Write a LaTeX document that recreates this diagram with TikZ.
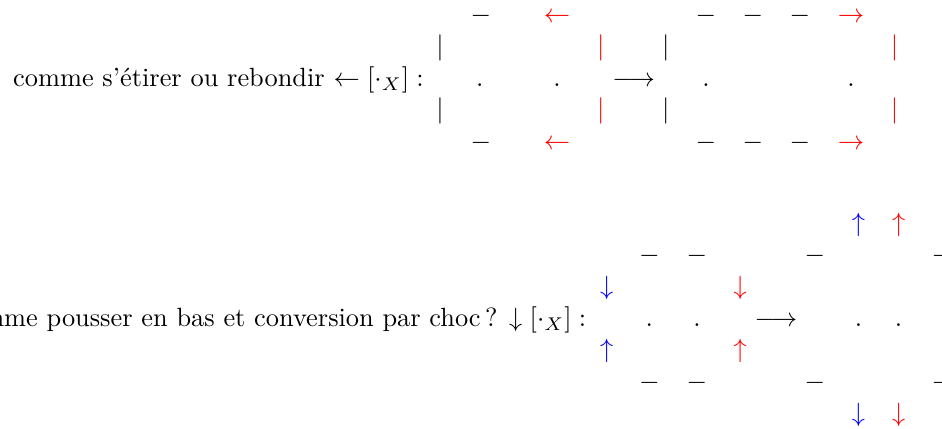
\documentclass[tikz,border=0pt]{standalone}
\usepackage{amsmath,amssymb}
\usepackage{fontspec}
\usepackage{xcolor}
\usepackage{tikz}

\begin{document}
\begin{tikzpicture}[
   every node/.style={font=\normalsize},
   sym/.style={anchor=base,inner sep=0pt},
   lbl/.style={anchor=base east,inner sep=0pt},
   hot/.style={sym,red},
   cold/.style={sym,blue}
]
\useasboundingbox (0,0) rectangle (12.565,-5.709);
\clip (0,0) rectangle (12.565,-5.709);

% =========== Row A: stretch or rebound ============
\node[lbl] (txtA) at (5.66,-1.158)
   {comme s’étirer ou rebondir $\leftarrow [\cdot_X] :$};

% left box: walls, edges and the pushed right wall
\foreach \y/\n in {-0.304/t,-1.995/b} {
  \node[sym] (A\n e) at (6.415,\y) {$-$};
  \node[hot] (A\n a) at (7.43,\y)  {$\leftarrow$};
}
\foreach \y/\n in {-0.727/t,-1.572/b} {
  \node[sym] (A\n l) at (5.868,\y) {$|$};
  \node[hot] (A\n r) at (8.015,\y) {$|$};
}
\node[sym] (Ap1) at (6.40,-1.152) {$.$};
\node[sym] (Ap2) at (7.43,-1.152) {$.$};

\node[sym] (Ato) at (8.452,-1.152) {$\longrightarrow$};

% right box, stretched
\foreach \y/\n in {-0.304/t,-1.995/b} {
  \foreach \x [count=\i] in {9.416,10.043,10.67} {
    \node[sym] (B\n e\i) at (\x,\y) {$-$};
  }
  \node[hot] (B\n a) at (11.35,\y) {$\rightarrow$};
}
\foreach \y/\n in {-0.727/t,-1.572/b} {
  \node[sym] (B\n l) at (8.882,\y)  {$|$};
  \node[hot] (B\n r) at (11.932,\y) {$|$};
}
\node[sym] (Bp1) at (9.416,-1.152) {$.$};
\node[sym] (Bp2) at (11.35,-1.152) {$.$};

% =========== Row B: push down, shock conversion ============
\node[lbl] (txtB) at (7.828,-4.36)
   {comme pousser en bas et conversion par choc\,? $\downarrow [\cdot_X] :$};

% left box, squeezed from both sides
\foreach \y/\n in {-3.505/t,-5.199/b} {
  \node[sym] (C\n e1) at (8.662,\y) {$-$};
  \node[sym] (C\n e2) at (9.296,\y) {$-$};
}
\node[cold] (Cdl) at (8.091,-3.929) {$\downarrow$};
\node[cold] (Cul) at (8.091,-4.775) {$\uparrow$};
\node[hot]  (Cdr) at (9.873,-3.929) {$\downarrow$};
\node[hot]  (Cur) at (9.873,-4.775) {$\uparrow$};
\node[sym] (Cp1) at (8.662,-4.352) {$.$};
\node[sym] (Cp2) at (9.296,-4.352) {$.$};

\node[sym] (Cto) at (10.349,-4.352) {$\longrightarrow$};

% right box, particles thrown out
\foreach \y/\n in {-3.505/t,-5.199/b} {
  \node[sym] (D\n e1) at (10.87,\y)  {$-$};
  \node[sym] (D\n e2) at (12.563,\y) {$-$};
}
\node[cold] (Dul) at (11.452,-3.082) {$\uparrow$};
\node[hot]  (Dur) at (11.986,-3.082) {$\uparrow$};
\node[cold] (Ddl) at (11.452,-5.621) {$\downarrow$};
\node[hot]  (Ddr) at (11.986,-5.621) {$\downarrow$};
\node[sym] (Dp1) at (11.452,-4.352) {$.$};
\node[sym] (Dp2) at (11.986,-4.352) {$.$};

\end{tikzpicture}
\end{document}
